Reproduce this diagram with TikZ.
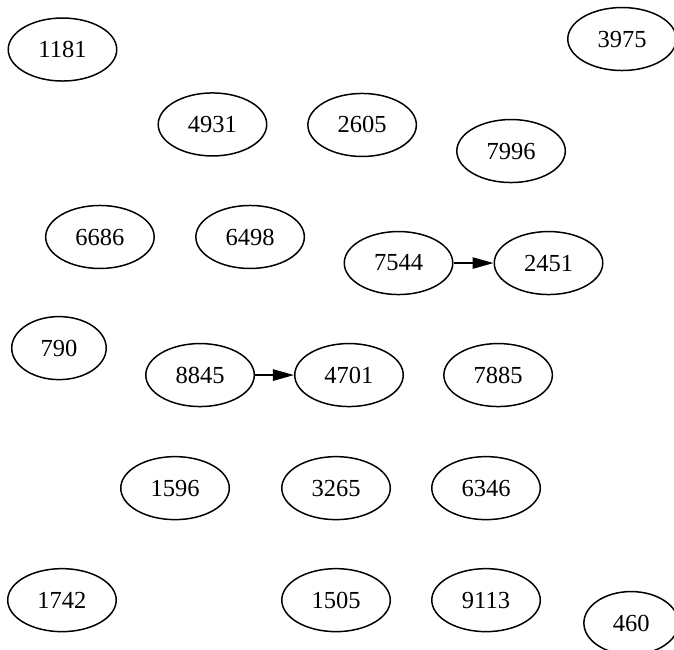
\documentclass[tikz,border=0pt]{standalone}
\usepackage{fontspec}
\setmainfont{Liberation Serif}
\usetikzlibrary{shapes.geometric,arrows.meta}
\tikzset{
  nd/.style={draw, ellipse, line width=0.85pt, minimum width=62pt, minimum height=36pt, inner sep=0pt,
    font=\fontsize{14pt}{16pt}\selectfont},
  nds/.style={nd, minimum width=54pt},
  edg/.style={line width=0.85pt, -{Triangle[length=12pt,width=6.5pt]}}
}
\begin{document}
\begin{tikzpicture}[x=1pt,y=-1pt]
\useasboundingbox (0,0) rectangle (385.1,370.9);
\node[nd] (n1181) at (35.7,28.3) {1181};
\node[nd] (n3975) at (355.4,22.3) {3975};
\node[nd] (n4931) at (121.4,71.1) {4931};
\node[nd] (n2605) at (206.9,71.4) {2605};
\node[nd] (n7996) at (292,86.3) {7996};
\node[nd] (n6686) at (57.1,135.4) {6686};
\node[nd] (n6498) at (142.9,135.4) {6498};
\node[nd] (n7544) at (227.7,150.3) {7544};
\node[nd] (n2451) at (313.4,150.3) {2451};
\node[nds] (n790) at (33.7,198.9) {790};
\node[nd] (n8845) at (114.3,214.3) {8845};
\node[nd] (n4701) at (199.4,214.3) {4701};
\node[nd] (n7885) at (284.6,214.3) {7885};
\node[nd] (n1596) at (100,278.9) {1596};
\node[nd] (n3265) at (192,278.9) {3265};
\node[nd] (n6346) at (277.7,278.9) {6346};
\node[nd] (n1742) at (35.4,342.9) {1742};
\node[nd] (n1505) at (192,342.9) {1505};
\node[nd] (n9113) at (277.7,342.9) {9113};
\node[nds] (n460) at (360.6,356) {460};
\draw[edg] (n7544) -- (n2451);
\draw[edg] (n8845) -- (n4701);
\end{tikzpicture}
\end{document}
